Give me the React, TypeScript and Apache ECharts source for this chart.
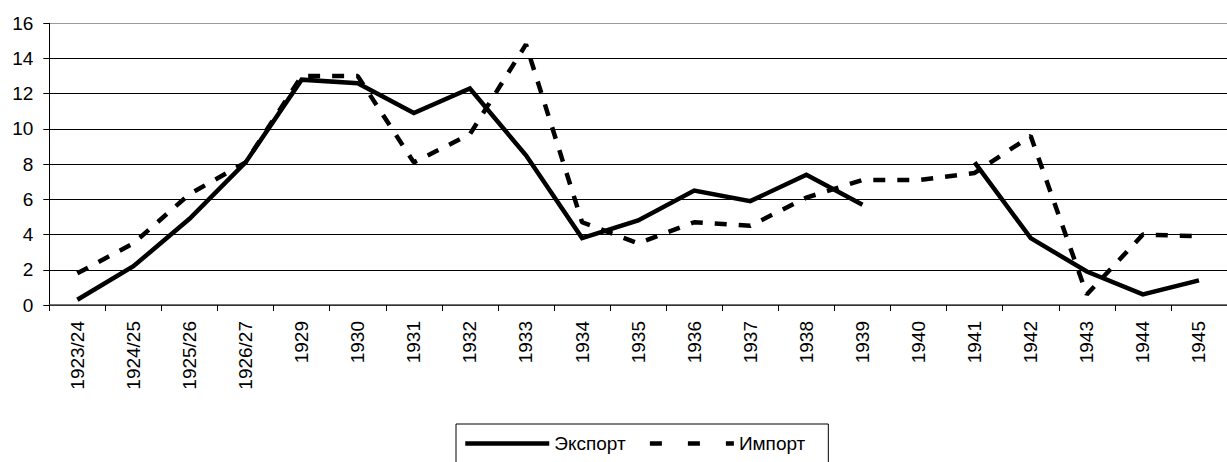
import React, { useEffect, useRef } from "react";
import * as echarts from "echarts";

const categories = [
  "1923/24", "1924/25", "1925/26", "1926/27", "1929", "1930", "1931", "1932",
  "1933", "1934", "1935", "1936", "1937", "1938", "1939", "1940", "1941",
  "1942", "1943", "1944", "1945",
];

const exportValues: (number | null)[] = [
  0.3, 2.2, 4.9, 8.1, 12.8, 12.6, 10.9, 12.3, 8.5, 3.8, 4.8, 6.5, 5.9, 7.4,
  5.7, null, 8.1, 3.8, 1.9, 0.6, 1.4,
];

const importValues: number[] = [
  1.8, 3.5, 6.3, 8.1, 13.0, 13.0, 8.1, 9.7, 14.8, 4.7, 3.5, 4.7, 4.5, 6.1,
  7.1, 7.1, 7.5, 9.6, 0.6, 4.0, 3.9,
];

const yTicks = { min: 0, max: 16, interval: 2 };

const FONT = "'Liberation Sans', Arial, sans-serif";

export default function App() {
  const ref = useRef<HTMLDivElement>(null);

  useEffect(() => {
    if (!ref.current) return;
    const chart = echarts.init(ref.current, null, { renderer: "svg" });
    chart.setOption({
      animation: false,
      backgroundColor: "#ffffff",
      textStyle: { fontFamily: FONT },
      grid: { left: 49.3, top: 23.3, width: 1188.6, height: 281.7, containLabel: false },
      legend: {
        left: 456,
        top: 424,
        orient: "horizontal",
        padding: [10, 23, 12, 7],
        itemWidth: 84,
        itemHeight: 20,
        itemGap: 22,
        borderColor: "#000",
        borderWidth: 1,
        textStyle: { fontSize: 19, color: "#000", fontFamily: FONT },
        data: [
          {
            name: "Экспорт",
            itemStyle: { opacity: 0 },
            lineStyle: { width: 4.5, color: "#000", type: "solid" },
          },
          {
            name: "Импорт",
            itemStyle: { opacity: 0 },
            lineStyle: { width: 4.5, color: "#000", type: [12, 26], cap: "butt" },
          },
        ],
      },
      xAxis: {
        type: "category",
        data: categories,
        boundaryGap: true,
        axisLine: { show: true, lineStyle: { color: "#444", width: 1.5 } },
        axisTick: { show: true, length: 6, inside: false, alignWithLabel: false, lineStyle: { color: "#000" } },
        axisLabel: {
          rotate: 90,
          interval: 0,
          margin: 16,
          fontSize: 19,
          color: "#000",
          fontFamily: FONT,
        },
        splitLine: { show: false },
      },
      yAxis: {
        type: "value",
        min: yTicks.min,
        max: yTicks.max,
        interval: yTicks.interval,
        axisLine: { show: true, lineStyle: { color: "#000", width: 1 } },
        axisTick: { show: true, length: 6, inside: false, lineStyle: { color: "#000" } },
        axisLabel: { margin: 16, fontSize: 19, color: "#000", fontFamily: FONT },
        splitLine: {
          show: true,
          lineStyle: {
            color: ["#000", "#000", "#000", "#000", "#000", "#000", "#000", "#000", "#999"],
            width: 1,
          },
        },
      },
      series: [
        {
          name: "Экспорт",
          type: "line",
          data: exportValues,
          symbol: "none",
          connectNulls: false,
          lineStyle: { color: "#000", width: 4.5, type: "solid", join: "miter" },
          itemStyle: { color: "#000" },
          z: 3,
        },
        {
          name: "Импорт",
          type: "line",
          data: importValues,
          symbol: "none",
          lineStyle: { color: "#000", width: 4.5, type: [12, 12], cap: "butt" },
          itemStyle: { color: "#000" },
          z: 4,
        },
      ],
    });
    return () => chart.dispose();
  }, []);

  return (
    <div
      ref={ref}
      style={{ position: "fixed", left: 0, top: 0, width: 1227, height: 462, overflow: "hidden", background: "#fff" }}
    />
  );
}
